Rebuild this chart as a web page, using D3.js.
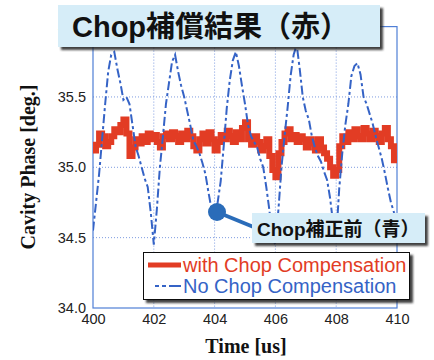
<!DOCTYPE html>
<html lang="ja">
  <head>
    <meta charset="utf-8">
    <title>Chop補償結果</title>
    <style>
      body { margin: 0; background: #fff; }
      svg { display: block; }
    </style>
  </head>
  <body>
    <svg width="434" height="360"></svg>
    <script src="https://d3js.org/d3.v7.min.js"></script>
    <script>
      // time axis, 0.1 us steps
      var times = d3.range(0, 101).map(function(i) { return 400 + i / 10; });
      var xTicks = [400, 402, 404, 406, 408, 410];
      var yTicks = [34.0, 34.5, 35.0, 35.5, 36.0];

      // with Chop Compensation (red)
      var withComp = [
        35.12, 35.16, 35.24, 35.22, 35.15, 35.18, 35.22, 35.27, 35.25, 35.30,
        35.34, 35.24, 35.08, 35.14, 35.20, 35.17, 35.22, 35.18, 35.24, 35.20,
        35.23, 35.18, 35.14, 35.22, 35.24, 35.20, 35.25, 35.22, 35.18, 35.24,
        35.20, 35.26, 35.22, 35.15, 35.12, 35.20, 35.24, 35.17, 35.25, 35.20,
        35.12, 35.18, 35.23, 35.20, 35.26, 35.22, 35.18, 35.25, 35.20, 35.28,
        35.32, 35.20, 35.16, 35.22, 35.18, 35.12, 35.15, 35.20, 35.08, 34.98,
        34.93, 35.10, 35.18, 35.24, 35.27, 35.20, 35.23, 35.18, 35.22, 35.20,
        35.14, 35.20, 35.17, 35.12, 35.20, 35.14, 35.10, 35.06, 35.00, 34.94,
        34.98, 35.15, 35.22, 35.18, 35.25, 35.20, 35.27, 35.22, 35.20, 35.28,
        35.24, 35.20, 35.26, 35.22, 35.18, 35.24, 35.28, 35.20, 35.15, 35.05,
        35.08
      ];

      // No Chop Compensation (blue)
      var noComp = [
        34.55, 34.75, 34.95, 35.20, 35.45, 35.68, 35.80, 35.82, 35.70, 35.60,
        35.48, 35.50, 35.45, 35.30, 35.15, 35.08, 35.00, 34.92, 34.86, 34.68,
        34.45, 34.70, 35.00, 35.22, 35.45, 35.60, 35.75, 35.80, 35.68, 35.58,
        35.50, 35.40, 35.30, 35.19, 35.15, 35.10, 35.03, 34.95, 34.82, 34.70,
        34.65, 34.75, 34.90, 35.15, 35.42, 35.62, 35.76, 35.82, 35.72, 35.58,
        35.45, 35.30, 35.22, 35.18, 35.14, 35.06, 35.00, 34.86, 34.70, 34.50,
        34.45, 34.70, 35.00, 35.22, 35.42, 35.65, 35.80, 35.87, 35.70, 35.50,
        35.40, 35.34, 35.22, 35.14, 35.08, 35.04, 34.97, 34.91, 34.78, 34.60,
        34.50, 34.85, 35.10, 35.30, 35.45, 35.65, 35.72, 35.74, 35.66, 35.50,
        35.45, 35.38, 35.31, 35.22, 35.14, 35.06, 34.96, 34.85, 34.75, 34.68,
        34.62
      ];

      var red = "#e23c24", blue = "#3563c6";
      var svg = d3.select("svg");

      var defs = svg.append("defs");
      defs.append("clipPath").attr("id", "plot")
        .append("rect").attr("x", 93).attr("y", 26).attr("width", 304).attr("height", 282);
      defs.append("filter").attr("id", "shadow")
        .attr("x", "-10%").attr("y", "-20%").attr("width", "130%").attr("height", "160%")
        .append("feDropShadow")
        .attr("dx", 3).attr("dy", 3).attr("stdDeviation", 1.2)
        .attr("flood-color", "#222").attr("flood-opacity", 0.85);

      var x = d3.scaleLinear().domain([400, 410]).range([93, 397]);
      var y = d3.scaleLinear().domain([34, 36]).range([308, 26.6]);

      // grid
      svg.append("g").selectAll("line").data(xTicks.slice(1, -1)).enter().append("line")
        .attr("x1", d => x(d)).attr("x2", d => x(d)).attr("y1", y(36)).attr("y2", y(34))
        .attr("stroke", "#7d9be0").attr("stroke-dasharray", "1,2");
      svg.append("g").selectAll("line").data(yTicks.slice(1, -1)).enter().append("line")
        .attr("x1", x(400)).attr("x2", x(410)).attr("y1", d => y(d)).attr("y2", d => y(d))
        .attr("stroke", "#7d9be0").attr("stroke-dasharray", "1,2");

      // frame
      svg.append("rect")
        .attr("x", x(400)).attr("y", y(36))
        .attr("width", x(410) - x(400)).attr("height", y(34) - y(36))
        .attr("fill", "none").attr("stroke", "#4f7fd6").attr("stroke-width", 1.2);

      // axes labels
      var yAxis = d3.axisLeft(y).tickValues(yTicks).tickSize(0).tickPadding(7)
        .tickFormat(d3.format(".1f"));
      svg.append("g").attr("transform", "translate(" + x(400) + ",0)").call(yAxis)
        .call(g => g.select(".domain").remove())
        .selectAll("text").attr("font-family", "Liberation Sans, Arial, sans-serif")
        .attr("font-size", 14.5).attr("fill", "#222");

      var xAxis = d3.axisBottom(x).tickValues(xTicks).tickSize(0).tickPadding(6)
        .tickFormat(d3.format("d"));
      svg.append("g").attr("transform", "translate(0," + y(34) + ")").call(xAxis)
        .call(g => g.select(".domain").remove())
        .selectAll("text").attr("font-family", "Liberation Sans, Arial, sans-serif")
        .attr("font-size", 14.5).attr("fill", "#222");

      svg.append("text")
        .attr("transform", "translate(35,167) rotate(-90)")
        .attr("text-anchor", "middle")
        .attr("font-family", "Liberation Serif, Times New Roman, serif")
        .attr("font-weight", "bold").attr("font-size", 20).attr("fill", "#111")
        .text("Cavity Phase [deg.]");
      svg.append("text")
        .attr("x", 246).attr("y", 353).attr("text-anchor", "middle")
        .attr("font-family", "Liberation Serif, Times New Roman, serif")
        .attr("font-weight", "bold").attr("font-size", 20).attr("fill", "#111")
        .text("Time [us]");

      // series
      var plot = svg.append("g").attr("clip-path", "url(#plot)");
      plot.append("path")
        .datum(withComp)
        .attr("fill", "none").attr("stroke", red).attr("stroke-width", 6)
        .attr("d", d3.line().curve(d3.curveStepAfter).x((d, i) => x(times[i])).y(d => y(d)));
      plot.append("path")
        .datum(noComp)
        .attr("fill", "none").attr("stroke", blue).attr("stroke-width", 2)
        .attr("stroke-dasharray", "9,3,3,3")
        .attr("d", d3.line().x((d, i) => x(times[i])).y(d => y(d)));

      // legend
      var lg = svg.append("g");
      lg.append("rect").attr("x", 143.5).attr("y", 252.5).attr("width", 266).attr("height", 47)
        .attr("fill", "#fff").attr("stroke", "#111").attr("filter", "url(#shadow)");
      lg.append("line").attr("x1", 148).attr("x2", 181).attr("y1", 265).attr("y2", 265)
        .attr("stroke", red).attr("stroke-width", 5);
      lg.append("line").attr("x1", 155).attr("x2", 181).attr("y1", 286).attr("y2", 286)
        .attr("stroke", blue).attr("stroke-width", 2).attr("stroke-dasharray", "4,3,4,3,12");
      lg.append("text").attr("x", 183).attr("y", 272)
        .attr("font-family", "Liberation Sans, Arial, sans-serif").attr("font-size", 20)
        .attr("fill", red).text("with Chop Compensation");
      lg.append("text").attr("x", 183).attr("y", 293)
        .attr("font-family", "Liberation Sans, Arial, sans-serif").attr("font-size", 20)
        .attr("fill", blue).text("No Chop Compensation");

      // callout: Chop補正前（青）
      svg.append("line").attr("x1", 217).attr("y1", 212).attr("x2", 256).attr("y2", 228)
        .attr("stroke", "#2a6cb9").attr("stroke-width", 4);
      svg.append("circle").attr("cx", 217).attr("cy", 212).attr("r", 9).attr("fill", "#2a6cb9");
      svg.append("rect").attr("x", 252).attr("y", 213).attr("width", 173).attr("height", 30)
        .attr("fill", "#d6edf8").attr("filter", "url(#shadow)");
      svg.append("text").attr("x", 257).attr("y", 236)
        .attr("font-family", "Liberation Sans, Noto Sans CJK JP, sans-serif")
        .attr("font-weight", "bold").attr("font-size", 19).attr("fill", "#111")
        .text("Chop補正前（青）");

      // title box
      svg.append("rect").attr("x", 58).attr("y", 5).attr("width", 322).attr("height", 42)
        .attr("fill", "#d6edf8").attr("filter", "url(#shadow)");
      svg.append("text").attr("x", 72).attr("y", 37)
        .attr("font-family", "Liberation Sans, Noto Sans CJK JP, sans-serif")
        .attr("font-weight", "bold").attr("font-size", 29).attr("fill", "#111")
        .text("Chop補償結果（赤）");
    </script>
  </body>
</html>
